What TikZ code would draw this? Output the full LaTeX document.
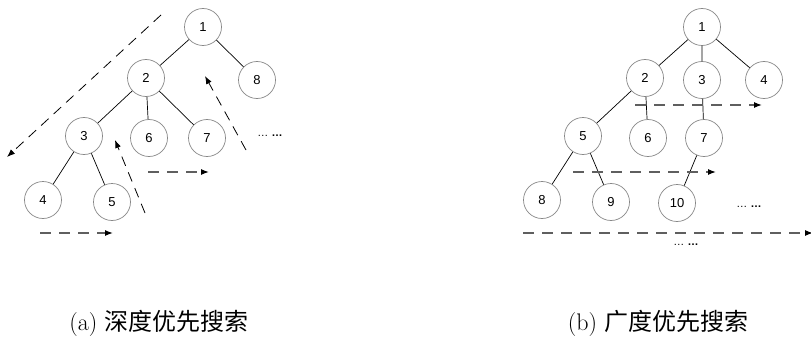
\documentclass[tikz,border=0pt]{standalone}
\usepackage{fontspec}
\setsansfont{Liberation Sans}
\newfontfamily\cjk{Noto Sans CJK SC}
\usetikzlibrary{arrows.meta,positioning}
\definecolor{ringgrey}{RGB}{135,135,135}
\definecolor{sweepgrey}{RGB}{95,95,95}

\begin{document}
\begin{tikzpicture}[x=1pt,y=-1pt,
  vertex/.style={circle,draw=ringgrey,line width=0.7pt,minimum size=37pt,inner sep=0pt,font=\sffamily\fontsize{13}{13}\selectfont},
  walk/.style={dash pattern=on 10pt off 7pt,line width=0.8pt,-{Latex[length=8pt,width=6pt]}},
  sweep/.style={dash pattern=on 11pt off 8pt,draw=sweepgrey,line width=1.3pt,-{Latex[length=8pt,width=6pt,color=black]}},
  more/.style={font=\sffamily\fontsize{11}{11}\selectfont},
  caption/.style={font=\fontsize{24}{28}\selectfont}]
  \useasboundingbox (0,0) rectangle (811,337);

  % depth first
  \node[vertex] (a1) at (203,27) {1};
  \node[vertex] (a2) at (146,78) {2};
  \node[vertex] (a8) at (257,80) {8};
  \node[vertex] (a3) at (84,136) {3};
  \node[vertex] (a6) at (149,138) {6};
  \node[vertex] (a7) at (207,138) {7};
  \node[vertex] (a4) at (43,200) {4};
  \node[vertex] (a5) at (112,202) {5};
  \node[more] (adots) at (270,136) {… \textbf{…}};
  \draw[line width=0.7pt] (a1) -- (a2) (a1) -- (a8) (a2) -- (a3) (a2) -- (a6)
    (a2) -- (a7) (a3) -- (a4) (a3) -- (a5);
  \coordinate (d1) at (161,15);  \coordinate (d2) at (7,157);
  \coordinate (d3) at (40,233);  \coordinate (d4) at (113,233);
  \coordinate (d5) at (145,213); \coordinate (d6) at (115,140);
  \coordinate (d7) at (148,172); \coordinate (d8) at (209,172);
  \coordinate (d9) at (246,150); \coordinate (d10) at (205,76);
  \draw[walk] (d1) -- (d2);
  \draw[sweep] (d3) -- (d4);
  \draw[walk] (d5) -- (d6);
  \draw[sweep] (d7) -- (d8);
  \draw[walk] (d9) -- (d10);
  \node[caption] (acap) at (159,323) {(a) {\cjk 深度优先搜索}};

  % breadth first
  \node[vertex] (b1) at (702,27) {1};
  \node[vertex] (b2) at (645,78) {2};
  \node[vertex] (b3) at (702,80) {3};
  \node[vertex] (b4) at (764,80) {4};
  \node[vertex] (b5) at (583,136) {5};
  \node[vertex] (b6) at (648,138) {6};
  \node[vertex] (b7) at (704,138) {7};
  \node[vertex] (b8) at (542,200) {8};
  \node[vertex] (b9) at (611,202) {9};
  \node[vertex] (b10) at (677,203) {10};
  \node[more] (bdots) at (749,207) {… \textbf{…}};
  \node[more] (bdots2) at (686,245) {… \textbf{…}};
  \draw[line width=0.7pt] (b1) -- (b2) (b1) -- (b3) (b1) -- (b4) (b2) -- (b5)
    (b2) -- (b6) (b3) -- (b7) (b5) -- (b8) (b5) -- (b9) (b7) -- (b10);
  \coordinate (e1) at (635,105); \coordinate (e2) at (762,105);
  \coordinate (e3) at (573,172); \coordinate (e4) at (716,172);
  \coordinate (e5) at (523,233); \coordinate (e6) at (813,233);
  \draw[sweep] (e1) -- (e2);
  \draw[sweep] (e3) -- (e4);
  \draw[sweep] (e5) -- (e6);
  \node[caption] (bcap) at (658,323) {(b) {\cjk 广度优先搜索}};
\end{tikzpicture}
\end{document}
